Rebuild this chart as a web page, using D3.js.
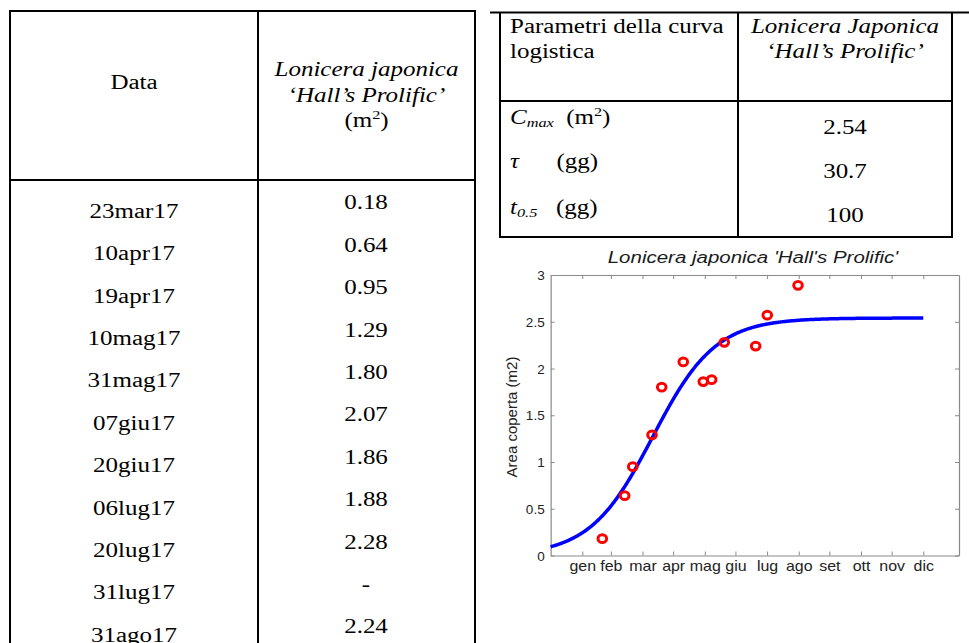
<!DOCTYPE html>
<html>
<head>
<meta charset="utf-8">
<script src="https://cdn.jsdelivr.net/npm/d3@7"></script>
<style>
  html, body { margin: 0; padding: 0; background: #fff; }
  svg { display: block; }
</style>
</head>
<body>
<svg id="fig" width="969" height="643"></svg>
<script>
// ---- Table of measurements ----
const sampleDates = ["23mar17", "10apr17", "19apr17", "10mag17", "31mag17", "07giu17",
                     "20giu17", "06lug17", "20lug17", "31lug17", "31ago17"];
const sampleAreas = [0.18, 0.64, 0.95, 1.29, 1.80, 2.07, 1.86, 1.88, 2.28, null, 2.24];

// ---- Logistic curve parameters ----
const paramValues = ["2.54", "30.7", "100"];
const Cmax = 2.54, tau = 30.7, tHalf = 100;

// ---- Chart observations (day index, covered area m2) ----
const obsDay  = [50.6, 72.5, 80.4, 99.3, 108.8, 129.9, 149.5, 157.7, 170.1, 200.8, 212.2, 242.3];
const obsArea = [0.18, 0.64, 0.95, 1.29, 1.80, 2.07, 1.86, 1.88, 2.28, 2.24, 2.57, 2.89];

// ---- Axis ticks ----
const monthLabels = ["gen", "feb", "mar", "apr", "mag", "giu", "lug", "ago", "set", "ott", "nov", "dic"];
const monthTicks  = [31, 59, 90, 120, 151, 181, 212, 243, 273, 304, 334, 365];
const yTicks      = [0, 0.5, 1, 1.5, 2, 2.5, 3];

const svg = d3.select("#fig");
const SERIF = "'Liberation Serif', 'Times New Roman', serif";
const SANS  = "'Liberation Sans', Arial, sans-serif";
const TSX = 1.25;   // horizontal stretch of the document text

function txt(parent, x, y, o) {
  return parent.append("text")
    .attr("transform", `translate(${x},${y}) scale(${o.sx || 1},1)`)
    .attr("text-anchor", o.anchor || "middle")
    .style("font-family", o.family || SERIF)
    .style("font-size", (o.size || 20) + "px")
    .style("font-style", o.italic ? "italic" : "normal")
    .attr("fill", o.fill || "#000");
}

// ---------------- Left table ----------------
const tb = svg.append("g");
const lineStyle = s => s.attr("stroke", "#000").attr("stroke-width", 2);
[[10, 11, 475, 11], [9, 180, 476, 180],
 [10, 10, 10, 643], [258, 10, 258, 643], [475, 10, 475, 643]]
  .forEach(l => tb.append("line").attr("x1", l[0]).attr("y1", l[1]).attr("x2", l[2]).attr("y2", l[3]).call(lineStyle));

txt(tb, 134, 89, { sx: TSX, size: 20 }).text("Data");
txt(tb, 366.5, 76, { sx: TSX, size: 20, italic: true }).text("Lonicera japonica");
txt(tb, 366.5, 102, { sx: TSX, size: 20, italic: true }).text("\u2018Hall\u2019s Prolific\u2019");
{
  const t = txt(tb, 366.5, 127, { sx: TSX, size: 20 });
  t.append("tspan").text("(m");
  t.append("tspan").attr("dy", -8).style("font-size", "13px").text("2");
  t.append("tspan").attr("dy", 8).text(")");
}

const rowStep = 42.4;
sampleDates.forEach((d, i) => {
  txt(tb, 134, 217.7 + rowStep * i, { sx: TSX, size: 20 }).text(d);
  const v = sampleAreas[i];
  txt(tb, 366, 209.3 + rowStep * i, { sx: TSX, size: 20 }).text(v == null ? "-" : v.toFixed(2));
});

// ---------------- Parameter table ----------------
const pt = svg.append("g");
[[490, 12.5, 969, 12.5], [500, 101, 952, 101], [500, 237, 952, 237],
 [500, 12, 500, 238], [738, 12, 738, 238], [952, 12, 952, 238]]
  .forEach(l => pt.append("line").attr("x1", l[0]).attr("y1", l[1]).attr("x2", l[2]).attr("y2", l[3]).call(lineStyle));

txt(pt, 510, 33, { sx: TSX, size: 20, anchor: "start" }).text("Parametri della curva");
txt(pt, 510, 58, { sx: TSX, size: 20, anchor: "start" }).text("logistica");
txt(pt, 845, 33, { sx: TSX, size: 20, italic: true }).text("Lonicera Japonica");
txt(pt, 845, 58, { sx: TSX, size: 20, italic: true }).text("\u2018Hall\u2019s Prolific\u2019");

{
  const t = txt(pt, 510, 124, { sx: TSX, size: 20, anchor: "start" });
  t.append("tspan").style("font-style", "italic").text("C");
  t.append("tspan").attr("dy", 3).style("font-style", "italic").style("font-size", "13px").text("max");
  t.append("tspan").attr("dy", -3).text("\u00a0\u00a0(m");
  t.append("tspan").attr("dy", -8).style("font-size", "13px").text("2");
  t.append("tspan").attr("dy", 8).text(")");
}
{
  const t = txt(pt, 510, 168, { sx: TSX, size: 20, anchor: "start" });
  t.append("tspan").style("font-style", "italic").text("\u03c4");
  t.append("tspan").text("\u00a0\u00a0\u00a0\u00a0\u00a0\u00a0(gg)");
}
{
  const t = txt(pt, 510, 214, { sx: TSX, size: 20, anchor: "start" });
  t.append("tspan").style("font-style", "italic").text("t");
  t.append("tspan").attr("dy", 3).style("font-style", "italic").style("font-size", "13px").text("0.5");
  t.append("tspan").attr("dy", -3).text("\u00a0\u00a0\u00a0(gg)");
}
[134, 178, 222].forEach((y, i) => txt(pt, 845, y, { sx: TSX, size: 20 }).text(paramValues[i]));

// ---------------- Logistic growth chart ----------------
const x = d3.scaleLinear().domain([0, 400]).range([550.65, 959]);
const y = d3.scaleLinear().domain([0, 3]).range([555.5, 275]);
const axisColor = "#8a8a8a";
const ch = svg.append("g");

const styleAxis = g => {
  g.select(".domain").attr("stroke", axisColor).attr("stroke-width", 1.2);
  g.selectAll(".tick line").attr("stroke", axisColor);
};

ch.append("g").attr("transform", `translate(0,${y(0)})`)
  .call(d3.axisBottom(x).tickValues(monthTicks).tickSizeInner(-4).tickSizeOuter(0)
        .tickFormat((d, i) => monthLabels[i]))
  .call(styleAxis)
  .call(g => g.selectAll(".tick text")
      .attr("y", 0).attr("dy", 0)
      .attr("transform", "translate(0,15) scale(1.14,1)")
      .attr("fill", "#222")
      .style("font-family", SANS).style("font-size", "14px"));

ch.append("g").attr("transform", `translate(0,${y(3)})`)
  .call(d3.axisTop(x).tickValues(monthTicks).tickSizeInner(-4).tickSizeOuter(0).tickFormat(""))
  .call(styleAxis);

ch.append("g").attr("transform", `translate(${x(0)},0)`)
  .call(d3.axisLeft(y).tickValues(yTicks).tickSizeInner(-4).tickSizeOuter(0).tickFormat(d3.format("~g")))
  .call(styleAxis)
  .call(g => g.selectAll(".tick text")
      .attr("x", -6).attr("dy", "0.35em")
      .attr("fill", "#222")
      .style("font-family", SANS).style("font-size", "13.5px"));

ch.append("g").attr("transform", `translate(${x(400)},0)`)
  .call(d3.axisRight(y).tickValues(yTicks).tickSizeInner(-4).tickSizeOuter(0).tickFormat(""))
  .call(styleAxis);

// Title and y-axis label
ch.append("text")
  .attr("transform", "translate(753,263) scale(1.22,1)")
  .attr("text-anchor", "middle")
  .style("font-family", SANS).style("font-style", "italic").style("font-size", "16.8px")
  .attr("fill", "#1a1a1a")
  .text("Lonicera japonica 'Hall's Prolific'");

ch.append("text")
  .attr("transform", "translate(517,417) rotate(-90)")
  .attr("text-anchor", "middle")
  .style("font-family", SANS).style("font-size", "15px")
  .attr("fill", "#222")
  .text("Area coperta (m2)");

// Fitted logistic curve from the tabulated parameters
const days = d3.range(0, 366, 1);
const fit = days.map(t => Cmax / (1 + Math.exp(-(t - tHalf) / tau)));
ch.append("path")
  .datum(days)
  .attr("fill", "none")
  .attr("stroke", "#0000ff")
  .attr("stroke-width", 3.5)
  .attr("d", d3.line().x(t => x(t)).y((t, i) => y(fit[i])));

// Observed points
ch.append("g").selectAll("ellipse")
  .data(obsDay)
  .join("ellipse")
  .attr("cx", d => x(d))
  .attr("cy", (d, i) => y(obsArea[i]))
  .attr("rx", 4.3).attr("ry", 3.9)
  .attr("fill", "none")
  .attr("stroke", "#ff0000")
  .attr("stroke-width", 3);
</script>
</body>
</html>
